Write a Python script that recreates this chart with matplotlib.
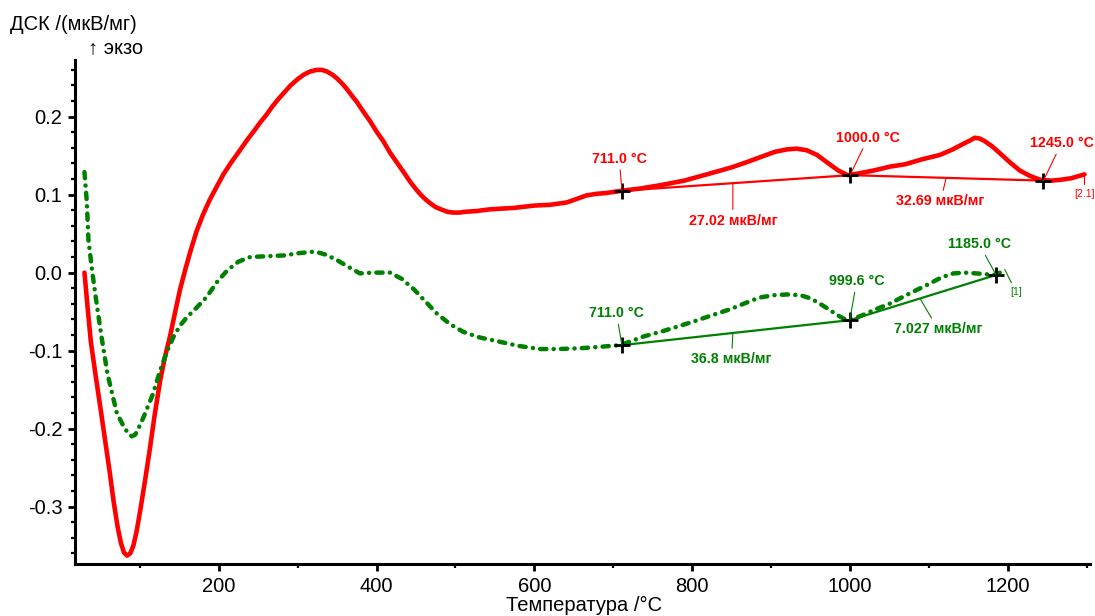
import numpy as np
import matplotlib
matplotlib.use("Agg")
import matplotlib.pyplot as plt
from matplotlib.ticker import MultipleLocator, FuncFormatter

plt.rcParams['font.family'] = ['Liberation Sans', 'DejaVu Sans']
plt.rcParams['lines.scale_dashes'] = False

# ---- data ----
red_T = [30, 34, 38, 44, 50, 56, 62, 67, 72, 76, 80, 84, 88, 92, 96, 101, 107, 113, 119,
         126, 132, 139, 145, 151, 158, 165, 172, 180, 189, 198, 206, 215, 227, 236,
         245, 253, 261, 268, 276, 284, 291, 300, 308, 316, 324, 331, 337, 344, 350, 356,
         362, 368, 375, 383, 392, 400, 409, 417, 426, 435, 443, 450, 456, 462, 468,
         475, 482, 490, 497, 505, 512, 527, 542, 557, 574, 600, 620, 641, 655, 666, 678,
         690, 711, 735, 759, 790, 822, 850, 870, 886, 905, 920, 932, 945, 958, 970, 985,
         997, 1010, 1030, 1051, 1070, 1090, 1114, 1130, 1145, 1153, 1158, 1164, 1170,
         1180, 1190, 1203, 1215, 1228, 1241, 1255, 1266, 1280, 1297]
red_v = [0.000, -0.045, -0.088, -0.131, -0.172, -0.214, -0.256, -0.294, -0.326, -0.346,
         -0.359, -0.363, -0.360, -0.350, -0.332, -0.303, -0.265, -0.225, -0.182,
         -0.138, -0.108, -0.079, -0.050, -0.022, 0.005, 0.030, 0.053, 0.074, 0.094,
         0.111, 0.126, 0.140, 0.157, 0.170, 0.182, 0.193, 0.203, 0.213, 0.223, 0.232,
         0.240, 0.248, 0.254, 0.258, 0.260, 0.260, 0.258, 0.254, 0.249, 0.243, 0.236,
         0.228, 0.219, 0.207, 0.194, 0.181, 0.168, 0.154, 0.141, 0.128, 0.116, 0.107,
         0.100, 0.094, 0.089, 0.084, 0.081, 0.078, 0.077, 0.077, 0.078, 0.079, 0.081,
         0.082, 0.083, 0.086, 0.087, 0.090, 0.095, 0.099, 0.101, 0.102, 0.105, 0.108,
         0.112, 0.118, 0.127, 0.135, 0.142, 0.148, 0.155, 0.158, 0.159, 0.157, 0.151,
         0.142, 0.131, 0.125, 0.127, 0.131, 0.136, 0.139, 0.145, 0.151, 0.158, 0.166,
         0.170, 0.173, 0.172, 0.169, 0.162, 0.153, 0.141, 0.131, 0.124, 0.119, 0.118,
         0.119, 0.121, 0.126]

green_T = [30, 33, 35, 40, 46, 52, 59, 65, 71, 80, 86, 90, 94, 97, 105, 117, 126, 135, 143,
           151, 160, 172, 185, 198, 211, 225, 240, 260, 282, 302, 322, 336, 350, 365, 379,
           395, 417, 432, 447, 462, 476, 493, 510, 530, 553, 580, 607, 630, 658, 685, 709,
           738, 763, 801, 827, 848, 865, 885, 903, 920, 937, 950, 962, 973, 983, 992, 999,
           1015, 1030, 1050, 1067, 1085, 1101, 1116, 1131, 1145, 1160, 1172, 1185, 1196]
green_v = [0.129, 0.090, 0.042, 0.000, -0.044, -0.085, -0.129, -0.155, -0.180, -0.198,
           -0.207, -0.210, -0.208, -0.203, -0.185, -0.155, -0.125, -0.100, -0.082, -0.068,
           -0.057, -0.045, -0.031, -0.012, 0.003, 0.014, 0.020, 0.021, 0.022, 0.025,
           0.027, 0.023, 0.016, 0.007, -0.001, 0.000, 0.000, -0.008, -0.021, -0.037,
           -0.052, -0.066, -0.076, -0.083, -0.088, -0.094, -0.098, -0.098, -0.097,
           -0.095, -0.093, -0.082, -0.075, -0.063, -0.054, -0.047, -0.040, -0.032,
           -0.029, -0.028, -0.029, -0.033, -0.040, -0.047, -0.054, -0.059, -0.061,
           -0.055, -0.048, -0.040, -0.031, -0.022, -0.014, -0.006, -0.001, 0.000,
           -0.001, -0.002, -0.003, 0.004]

# evaluation points (temperature, baseline value)
red_pts_T = [711.0, 1000.0, 1245.0]
red_pts_v = [0.105, 0.125, 0.118]
green_pts_T = [711.0, 999.6, 1185.0]
green_pts_v = [-0.093, -0.061, -0.003]

red_area_labels = ["27.02 мкВ/мг", "32.69 мкВ/мг"]
green_area_labels = ["36.8 мкВ/мг", "7.027 мкВ/мг"]

RED = "#ff0000"
GREEN = "#008000"

fig = plt.figure(figsize=(10.95, 6.16), dpi=100)
ax = fig.add_axes([75/1095, 52/616, (1090-75)/1095, (564-60)/616])

ax.plot(red_T, red_v, color=RED, lw=3.3, solid_capstyle='round', solid_joinstyle='round', zorder=3)
gl, = ax.plot(green_T, green_v, color=GREEN, lw=3.2, dash_capstyle='round',
              dash_joinstyle='round', zorder=3)
gl.set_dashes([4.5, 5.2, 0.1, 5.2])

# baselines
ax.plot(red_pts_T, red_pts_v, color=RED, lw=1.6, zorder=2)
ax.plot(green_pts_T, green_pts_v, color=GREEN, lw=1.6, zorder=2)

# markers
ax.plot(red_pts_T, red_pts_v, ls='none', marker='+', ms=11, mew=2.0, color='black', zorder=5)
ax.plot(green_pts_T, green_pts_v, ls='none', marker='+', ms=11, mew=2.0, color='black', zorder=5)

def ann(text, x, y, dx, dy, color, bold=True, size=10.3):
    ax.annotate(text, xy=(x, y), xytext=(dx, dy), textcoords='offset points',
                ha='center', va='center', color=color, fontsize=size,
                fontweight='bold' if bold else 'normal',
                arrowprops=dict(arrowstyle='-', color=color, lw=0.8,
                                shrinkA=1, shrinkB=0), zorder=6)

# temperature labels
red_offsets = [(-2, 23), (13, 27), (13, 27)]
for T, v, (dx, dy) in zip(red_pts_T, red_pts_v, red_offsets):
    ann(f"{T:.1f} °C", T, v, dx, dy, RED)
green_offsets = [(-4, 23), (5, 28), (-12, 22)]
for T, v, (dx, dy) in zip(green_pts_T, green_pts_v, green_offsets):
    ann(f"{T:.1f} °C", T, v, dx, dy, GREEN)

# area labels on baselines
rT1 = 851.5
ann(red_area_labels[0], rT1, np.interp(rT1, red_pts_T, red_pts_v), 0, -27, RED)
rT2 = 1121.7
ann(red_area_labels[1], rT2, np.interp(rT2, red_pts_T, red_pts_v), -4, -17, RED)
gT1 = 851.5
ann(green_area_labels[0], gT1, np.interp(gT1, green_pts_T, green_pts_v), -1, -19, GREEN)
gT2 = 1088.6
ann(green_area_labels[1], gT2, np.interp(gT2, green_pts_T, green_pts_v), 13, -22, GREEN)

# curve ids
ann("[2.1]", red_T[-1], red_v[-1], 0, -14, RED, bold=False, size=7.5)
ann("[1]", green_T[-1], green_v[-1], 8, -16, GREEN, bold=False, size=7.5)

ax.set_xlim(18, 1304)
ax.set_ylim(-0.3737, 0.2727)

for s in ['top', 'right']:
    ax.spines[s].set_visible(False)
for s in ['left', 'bottom']:
    ax.spines[s].set_linewidth(2.2)

ax.xaxis.set_major_locator(MultipleLocator(200))
ax.xaxis.set_minor_locator(MultipleLocator(100))
ax.yaxis.set_major_locator(MultipleLocator(0.1))
ax.yaxis.set_minor_locator(MultipleLocator(0.02))
ax.yaxis.set_major_formatter(FuncFormatter(lambda v, p: f"{0.0 if abs(v) < 1e-9 else v:.1f}"))
ax.tick_params(which='major', direction='out', length=5, width=2, labelsize=14.5, pad=4)
ax.tick_params(which='minor', direction='out', length=3, width=1.6)

fig.text(10/1095, 1-25/616, "ДСК /(мкВ/мг)", fontsize=14.5, va='center', ha='left')
fig.text(88/1095, 1-48/616, "↑ экзо", fontsize=14.5, va='center', ha='left')
fig.text(584/1095, 1-605/616, "Температура /°C", fontsize=14.5, va='center', ha='center')

fig.savefig("out.png", dpi=100)
